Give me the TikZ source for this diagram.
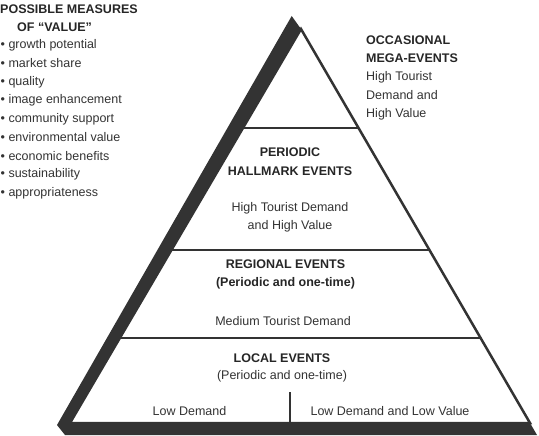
\documentclass[tikz,border=0pt]{standalone}
\usepackage{fontspec}
\setmainfont{Liberation Sans}
\usetikzlibrary{calc}
\definecolor{ink}{HTML}{333333}
\tikzset{
  tiertext/.style={font=\fontsize{12.5}{18.5}\selectfont, text=ink, inner sep=0pt, align=center},
  tiertitle/.style={tiertext, font=\fontsize{12.5}{18.5}\selectfont\bfseries, text=black!85},
  tierline/.style={ink, line width=2pt},
}
\begin{document}
\begin{tikzpicture}[x=1pt, y=-1pt]
    % --- Define Coordinates and Parameters ---
    \def\bandDepth{12}   % thickness of the dark base band
    \def\baseY{423}      % y of the front base line
    \useasboundingbox (0,0) rectangle (539,436);

    \coordinate (apex) at (301,29);
    \coordinate (bl)   at (70,\baseY);
    \coordinate (br)   at (530,\baseY);

    % --- Dark side and base band ---
    \fill[ink] (291.7,16) -- (apex) -- (bl) -- (br) -- (537,\baseY+\bandDepth)
        -- (65,\baseY+\bandDepth) -- (57,425) -- cycle;

    % --- Front face of the pyramid ---
    \filldraw[fill=white, draw=ink, line width=2.5pt, line join=miter] (apex) -- (br) -- (bl) -- cycle;

    % --- Tier lines (at fractions of the edge length) ---
    \foreach \t/\name in {0.2513/one, 0.561/two, 0.784/three}{
        \draw[tierline] ($(apex)!\t!(bl)$) coordinate (\name L) -- ($(apex)!\t!(br)$) coordinate (\name R);
    }
    % split of the bottom tier
    \coordinate (split) at (290,392);
    \draw[ink, line width=1.5pt] (split) -- (split |- bl);

    % --- Left column: measures of value ---
    \node[tiertitle, anchor=west] (measTitle) at (0,9) {POSSIBLE MEASURES};
    \node[tiertitle, anchor=west] (measSub) at (17,27) {OF “VALUE”};
    \foreach \item [count=\i] in {growth potential, market share, quality, image enhancement,
        community support, environmental value, economic benefits, sustainability, appropriateness}{
        \node[tiertext, anchor=west] (meas\i) at (0.5,{45+18.5*(\i-1)}) {• \item};
    }

    % --- Top tier (outside, to the right) ---
    \node[tiertitle, anchor=west, align=left] (megaTitle) at (366,49) {OCCASIONAL\\MEGA-EVENTS};
    \node[tiertext, anchor=west, align=left] (megaText) at (366,96) {High Tourist\\Demand and\\High Value};

    % --- Second tier ---
    \node[tiertitle] (hallTitle) at (290,161.5) {PERIODIC\\HALLMARK EVENTS};
    \node[tiertext] (hallText) at (290,217.5) {High Tourist Demand\\and High Value};

    % --- Third tier ---
    \node[tiertitle] (regTitle) at (285.5,274.5) {REGIONAL EVENTS\\(Periodic and one-time)};
    \node[tiertext] (regText) at (283,321) {Medium Tourist Demand};

    % --- Bottom tier ---
    \node[tiertitle] (locTitle) at (282,358) {LOCAL EVENTS};
    \node[tiertext] (locSub) at (282,376) {(Periodic and one-time)};
    \node[tiertext] (locLeft) at (189.5,411) {Low Demand};
    \node[tiertext] (locRight) at (390,411) {Low Demand and Low Value};

\end{tikzpicture}
\end{document}
